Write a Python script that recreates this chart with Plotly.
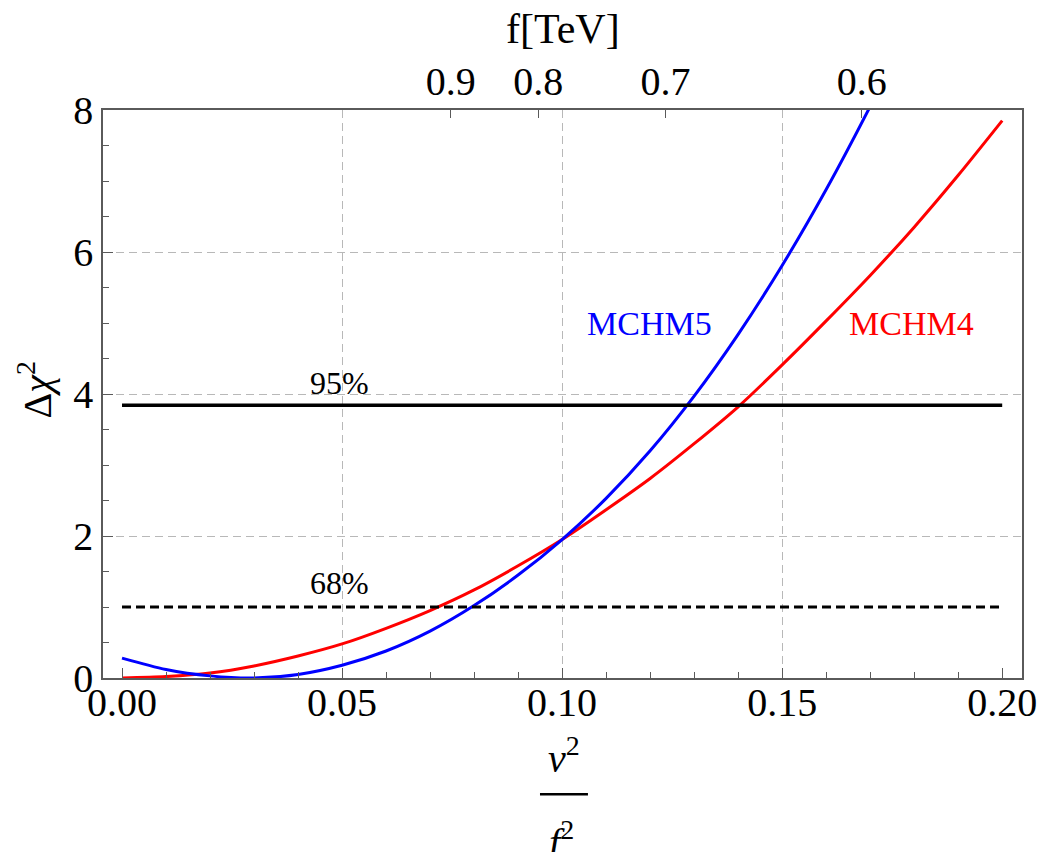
import plotly.graph_objects as go

# ---- data ----
x_mchm5 = [0.0, 0.01, 0.02, 0.03, 0.04, 0.05, 0.06, 0.07, 0.08, 0.09, 0.10,
           0.11, 0.12, 0.13, 0.14, 0.15, 0.16, 0.17, 0.18]
y_mchm5 = [0.28, 0.12, 0.03, 0.0, 0.05, 0.18, 0.38, 0.66, 1.02, 1.45, 1.95,
           2.53, 3.20, 3.97, 4.84, 5.81, 6.88, 8.05, 9.3]

x_mchm4 = [0.0, 0.01, 0.02, 0.03, 0.04, 0.05, 0.06, 0.07, 0.08, 0.09, 0.10,
           0.11, 0.12, 0.13, 0.14, 0.15, 0.16, 0.17, 0.18, 0.19, 0.20]
y_mchm4 = [0.0, 0.02, 0.07, 0.17, 0.31, 0.48, 0.70, 0.95, 1.24, 1.58, 1.95,
           2.37, 2.81, 3.30, 3.82, 4.41, 5.03, 5.67, 6.35, 7.08, 7.85]

cl_x = [0.0, 0.20]
cl95 = 3.84
cl68 = 1.0

x_ticks = [0.0, 0.05, 0.10, 0.15, 0.20]
x_ticktext = ["0.00", "0.05", "0.10", "0.15", "0.20"]
grid_x = [0.05, 0.10, 0.15]
y_ticks = [0, 2, 4, 6, 8]

v_ew = 0.246  # TeV
f_ticks = [0.9, 0.8, 0.7, 0.6]
f_tickvals = [v_ew ** 2 / f ** 2 for f in f_ticks]
f_ticktext = ["0.9", "0.8", "0.7", "0.6"]

XR = [-0.00432, 0.2045]
YR = [0, 8]
SERIF = "Liberation Serif, Times New Roman, serif"
GRID = "#b8b8b8"
FRAME = "#5a5a5a"

fig = go.Figure()

# reference lines (on grid axis x2)
fig.add_trace(go.Scatter(x=cl_x, y=[cl95, cl95], mode="lines", xaxis="x2",
                         line=dict(color="black", width=3.5), showlegend=False, hoverinfo="skip"))
fig.add_trace(go.Scatter(x=cl_x, y=[cl68, cl68], mode="lines", xaxis="x2",
                         line=dict(color="black", width=3, dash="9px,5px"), showlegend=False, hoverinfo="skip"))
# curves
fig.add_trace(go.Scatter(x=x_mchm4, y=y_mchm4, mode="lines", name="MCHM4",
                         line=dict(color="#ff0000", width=3, shape="spline", smoothing=0.8), showlegend=False))
fig.add_trace(go.Scatter(x=x_mchm5, y=y_mchm5, mode="lines", name="MCHM5",
                         line=dict(color="#0000ff", width=3, shape="spline", smoothing=0.8), showlegend=False))
# invisible trace to anchor the top axis
fig.add_trace(go.Scatter(x=[None], y=[None], xaxis="x3", mode="lines", showlegend=False, hoverinfo="skip"))

fig.update_layout(
    width=1054, height=852,
    margin=dict(l=103, r=32, t=110, b=174),
    paper_bgcolor="white", plot_bgcolor="white",
    font=dict(family=SERIF, color="black", size=40),
    xaxis=dict(range=XR, tickvals=x_ticks, ticktext=x_ticktext, ticks="inside",
               ticklen=10, tickcolor=FRAME, tickwidth=1, showgrid=False, zeroline=False,
               showline=True, linecolor=FRAME, linewidth=1.5, mirror=True,
               ticklabelstandoff=-12,
               tickfont=dict(family=SERIF, size=40),
               minor=dict(dtick=0.01, tick0=0, ticks="inside", ticklen=6, tickcolor=FRAME, showgrid=False)),
    xaxis2=dict(range=XR, overlaying="x", side="bottom", tickvals=grid_x, showticklabels=False,
                ticks="", showgrid=True, gridcolor=GRID, gridwidth=1, griddash="8px,5px",
                zeroline=False, showline=False),
    xaxis3=dict(range=XR, overlaying="x", side="top", anchor="y", tickvals=f_tickvals, ticktext=f_ticktext,
                ticks="inside", ticklen=8, tickcolor=FRAME, showgrid=False, zeroline=False, showline=False,
                ticklabelstandoff=6,
                tickfont=dict(family=SERIF, size=40)),
    yaxis=dict(range=YR, tickvals=y_ticks, ticks="inside", ticklen=10, tickcolor=FRAME,
               showgrid=True, gridcolor=GRID, gridwidth=1, griddash="8px,5px", zeroline=False,
               showline=True, linecolor=FRAME, linewidth=1.5, mirror=True,
               tickfont=dict(family=SERIF, size=40),
               minor=dict(dtick=0.5, tick0=0, ticks="inside", ticklen=6, tickcolor=FRAME, showgrid=False)),
)

ann = [
    dict(x=0.0495, y=4.15, xref="x", yref="y", text="95%", showarrow=False,
         font=dict(family=SERIF, size=32, color="black")),
    dict(x=0.0495, y=1.34, xref="x", yref="y", text="68%", showarrow=False,
         font=dict(family=SERIF, size=32, color="black")),
    dict(x=0.1198, y=5.0, xref="x", yref="y", text="MCHM5", showarrow=False,
         font=dict(family=SERIF, size=34, color="#0000ff")),
    dict(x=0.1795, y=5.0, xref="x", yref="y", text="MCHM4", showarrow=False,
         font=dict(family=SERIF, size=34, color="#ff0000")),
    dict(x=-0.074, y=0.508, xref="paper", yref="paper", text="Δ<i>χ</i><sup>2</sup>", showarrow=False,
         xanchor="center", yanchor="middle",
         textangle=-90, font=dict(family=SERIF, size=40, color="black")),
    dict(x=0.5005, y=1.142, xref="paper", yref="paper", text="f[TeV]", showarrow=False,
         xanchor="center", yanchor="middle",
         font=dict(family=SERIF, size=42, color="black")),
    dict(x=0.502, y=-0.1357, xref="paper", yref="paper", text="<i>v</i><sup>2</sup>", showarrow=False,
         xanchor="center", yanchor="middle",
         font=dict(family=SERIF, size=40, color="black")),
    dict(x=0.499, y=-0.285, xref="paper", yref="paper", text="<i>f</i><sup>2</sup>", showarrow=False,
         xanchor="center", yanchor="middle",
         font=dict(family=SERIF, size=40, color="black")),
]
fig.update_layout(annotations=ann)
fig.add_shape(type="line", xref="paper", yref="paper", x0=0.4755, x1=0.5277, y0=-0.2045, y1=-0.2045,
              line=dict(color="black", width=2.5))

fig.write_html("out.html")
